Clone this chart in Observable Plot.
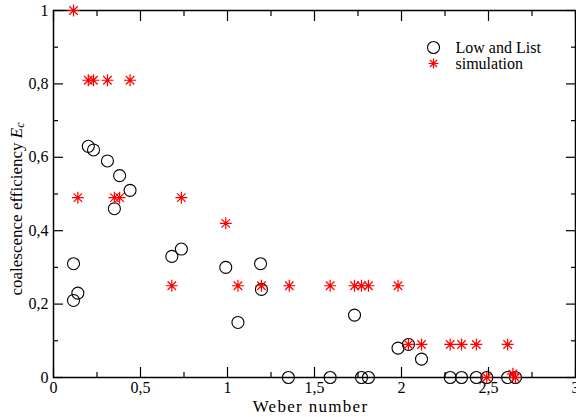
<!DOCTYPE html>
<html>
<head>
<meta charset="utf-8">
<script src="https://cdn.jsdelivr.net/npm/d3@7"></script>
<script src="https://cdn.jsdelivr.net/npm/@observablehq/plot@0.6"></script>
<style>
  body { margin: 0; background: #fff; }
  svg { overflow: visible; }
  svg, svg text { font-family: "Liberation Serif", "Times New Roman", serif !important; }
</style>
</head>
<body>
<div id="chart"></div>
<script>
// Low and List data
const lowX = [0.115, 0.115, 0.14, 0.20, 0.23, 0.31, 0.38, 0.35, 0.44, 0.68, 0.735, 0.99, 1.06, 1.19, 1.195, 1.35, 1.59, 1.73, 1.77, 1.81, 1.98, 2.04, 2.115, 2.28, 2.345, 2.43, 2.49, 2.61, 2.655];
const lowY = [0.31, 0.21, 0.23, 0.63, 0.62, 0.59, 0.55, 0.46, 0.51, 0.33, 0.35, 0.30, 0.15, 0.31, 0.24, 0, 0, 0.17, 0, 0, 0.08, 0.09, 0.05, 0, 0, 0, 0, 0, 0];
// simulation data
const simX = [0.115, 0.20, 0.23, 0.31, 0.44, 0.14, 0.35, 0.38, 0.735, 0.99, 0.68, 1.06, 1.195, 1.355, 1.59, 1.73, 1.77, 1.81, 1.98, 2.04, 2.115, 2.28, 2.345, 2.43, 2.61, 2.49, 2.655, 2.64];
const simY = [1, 0.81, 0.81, 0.81, 0.81, 0.49, 0.49, 0.49, 0.49, 0.42, 0.25, 0.25, 0.25, 0.25, 0.25, 0.25, 0.25, 0.25, 0.25, 0.09, 0.09, 0.09, 0.09, 0.09, 0.09, 0, 0, 0.01];
// ticks
const xMajor = [0, 0.5, 1, 1.5, 2, 2.5, 3];
const xMinor = [0.25, 0.75, 1.25, 1.75, 2.25, 2.75];
const yMajor = [0, 0.2, 0.4, 0.6, 0.8, 1];
const yMinor = [0.1, 0.3, 0.5, 0.7, 0.9];
const seriesNames = ["Low and List", "simulation"];
const xTitle = "Weber number";

const low = lowX.map((x, i) => ({x, y: lowY[i]}));
const sim = simX.map((x, i) => ({x, y: simY[i]}));

const asterisk = {
  draw(ctx, size) {
    const r = Math.sqrt(size / Math.PI);
    for (let i = 0; i < 4; i++) {
      const a = i * Math.PI / 4;
      ctx.moveTo(r * Math.cos(a), r * Math.sin(a));
      ctx.lineTo(-r * Math.cos(a), -r * Math.sin(a));
    }
  }
};

const fmt = d => String(d).replace(".", ",");
const blank = () => "";
const tickOpts = (anchor, size) => ({anchor, tickSize: size, tickFormat: blank, strokeWidth: 1.2, label: null});

const chart = Plot.plot({
  width: 576,
  height: 417,
  marginLeft: 53,
  marginRight: 1,
  marginTop: 10,
  marginBottom: 40,
  style: {fontSize: "16px", color: "black", background: "white"},
  x: {domain: [0, 3], label: null},
  y: {domain: [0, 1], label: null},
  marks: [
    // inward ticks
    Plot.axisX(xMajor, tickOpts("bottom", -10)),
    Plot.axisX(xMinor, tickOpts("bottom", -5)),
    Plot.axisX(xMajor, tickOpts("top", -10)),
    Plot.axisX(xMinor, tickOpts("top", -5)),
    Plot.axisY(yMajor, tickOpts("left", -10)),
    Plot.axisY(yMinor, tickOpts("left", -5)),
    Plot.axisY(yMajor, tickOpts("right", -10)),
    Plot.axisY(yMinor, tickOpts("right", -5)),
    // labels
    Plot.axisX(xMajor, {anchor: "bottom", tickSize: 0, tickPadding: 4, tickFormat: fmt, fontSize: 16, label: null}),
    Plot.axisY(yMajor, {anchor: "left", tickSize: 0, tickPadding: 5, tickFormat: fmt, fontSize: 16, label: null}),
    Plot.text([xTitle], {text: d => d, frameAnchor: "bottom", dx: -4, dy: 29, fontSize: 17, lineAnchor: "middle"}),
    Plot.frame({stroke: "black", strokeWidth: 1.5}),
    // data
    Plot.dot(low, {x: "x", y: "y", r: 6, stroke: "black", strokeWidth: 1.1, fill: "none"}),
    Plot.dot(sim, {x: "x", y: "y", r: 6, symbol: asterisk, stroke: "#ff0000", strokeWidth: 1.2, fill: "none"}),
    // legend
    Plot.dot([seriesNames[0]], {frameAnchor: "top-left", dx: 380, dy: 37, r: 6, stroke: "black", strokeWidth: 1.1, fill: "none"}),
    Plot.dot([seriesNames[1]], {frameAnchor: "top-left", dx: 380, dy: 53, r: 5, symbol: asterisk, stroke: "#ff0000", strokeWidth: 1.2, fill: "none"}),
    Plot.text([seriesNames[0]], {text: d => d, frameAnchor: "top-left", dx: 402, dy: 37, textAnchor: "start", lineAnchor: "middle", fontSize: 16}),
    Plot.text([seriesNames[1]], {text: d => d, frameAnchor: "top-left", dx: 402, dy: 53, textAnchor: "start", lineAnchor: "middle", fontSize: 16})
  ]
});

const svg = d3.select(chart.tagName === "svg" ? chart : chart.querySelector("svg"));
// widen x title to mimic the original typeface
svg.selectAll("text").filter(function() { return this.textContent === xTitle; }).attr("letter-spacing", 1.3);

// Y-axis title with italic E_c
const t = svg.append("text")
  .attr("transform", "translate(18,209) rotate(-90)")
  .attr("text-anchor", "middle")
  .attr("dominant-baseline", "middle")
  .attr("font-size", 17)
  .attr("fill", "black");
t.append("tspan").text("coalescence efficiency ");
t.append("tspan").attr("font-style", "italic").text("E");
t.append("tspan").attr("font-style", "italic").attr("font-size", 12).attr("dy", 3).text("c");

document.getElementById("chart").appendChild(chart);
</script>
</body>
</html>
